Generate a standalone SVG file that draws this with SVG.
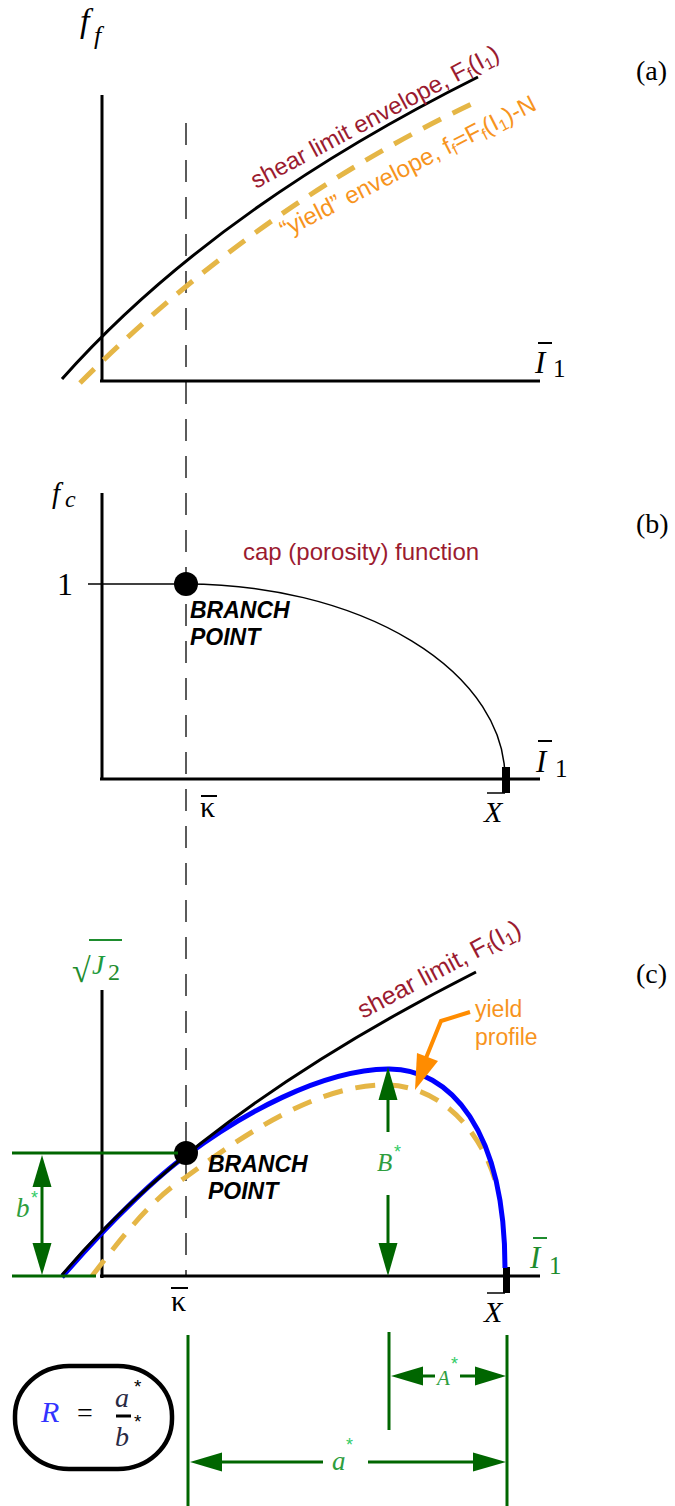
<svg xmlns="http://www.w3.org/2000/svg" width="675" height="1506" viewBox="0 0 675 1506">
<style>
.axis{stroke:#000;stroke-width:3;fill:none}
.thin{stroke:#000;stroke-width:1.5;fill:none}
.dash{stroke:#333;stroke-width:1.6;stroke-dasharray:22 15;fill:none}
.shear{stroke:#000;stroke-width:3;fill:none}
.yield{stroke:#E5B646;stroke-width:5;stroke-dasharray:20 13;fill:none}
.blue{stroke:#0000FF;stroke-width:5;fill:none}
.gl{stroke:#006600;stroke-width:3;fill:none}
.gh{fill:#006600}
.math{font-family:"Liberation Serif",serif;font-style:italic}
.rm{font-family:"Liberation Serif",serif}
.sans{font-family:"Liberation Sans",Arial,sans-serif}
.red{fill:#9B1B30}
.org{fill:#F7941D}
.bp{font-family:"Liberation Sans",Arial,sans-serif;font-weight:bold;font-style:italic;font-size:23px;fill:#000}
.gtx{fill:#2E9E3E}
.star{font-family:"Liberation Sans",sans-serif;font-size:18px;fill:#33CC66}
</style>

<g id="panel-labels" class="rm" font-size="28">
<text x="636" y="80">(a)</text>
<text x="636" y="533">(b)</text>
<text x="636" y="983">(c)</text>
</g>

<g id="kappa-guide">
<line class="dash" x1="186" y1="123" x2="186" y2="1276"/>
</g>

<g id="panel-a">
<line class="axis" x1="102" y1="95" x2="102" y2="382"/>
<line class="axis" x1="100" y1="381" x2="540" y2="381"/>
<text class="math" x="80" y="32" font-size="34">f</text>
<text class="math" x="94" y="44" font-size="26">f</text>
<line x1="538" y1="343" x2="552" y2="343" stroke="#000" stroke-width="2"/>
<text class="math" x="535" y="373" font-size="31">I</text>
<text class="rm" x="553" y="377" font-size="25">1</text>
</g>

<g id="panel-b">
<line class="axis" x1="102" y1="493" x2="102" y2="780"/>
<line class="axis" x1="100" y1="779" x2="540" y2="779"/>
<text class="math" x="52" y="503" font-size="29">f</text>
<text class="math" x="65" y="507" font-size="24">c</text>
<text class="rm" x="57" y="595" font-size="32">1</text>
<line class="thin" x1="88" y1="584" x2="186" y2="584"/>
<path class="thin" d="M186,584 A319,194 0 0 1 505,778"/>
<rect x="502" y="767" width="8" height="26" fill="#000"/>
<line class="thin" x1="487" y1="793" x2="505" y2="793"/>
<text class="math" x="484" y="822" font-size="30">X</text>
<line x1="538" y1="741" x2="552" y2="741" stroke="#000" stroke-width="2"/>
<text class="math" x="536" y="772" font-size="31">I</text>
<text class="rm" x="555" y="777" font-size="25">1</text>
<line x1="201" y1="796" x2="217" y2="796" stroke="#000" stroke-width="2"/>
<text class="rm" x="200" y="817" font-size="30">κ</text>
<circle cx="186" cy="584" r="12" fill="#000"/>
<text class="bp" x="190" y="618">BRANCH</text>
<text class="bp" x="190" y="645">POINT</text>
<text class="sans red" x="243" y="560" font-size="24">cap (porosity) function</text>
</g>

<g id="panel-c">
<line class="axis" x1="102" y1="990" x2="102" y2="1278"/>
<line class="axis" x1="100" y1="1276" x2="540" y2="1276"/>
<text class="rm" x="72" y="982" font-size="34" fill="#1E8C2E">√</text>
<line x1="89" y1="940" x2="122" y2="940" stroke="#1E8C2E" stroke-width="1.8"/>
<text class="math" x="92" y="974" font-size="28" fill="#1E9C3E">J</text>
<text class="rm" x="108" y="980" font-size="24" fill="#1E8C2E">2</text>
<line x1="533" y1="1238" x2="547" y2="1238" stroke="#1E8C2E" stroke-width="2"/>
<text class="math" x="530" y="1268" font-size="31" fill="#1E8C2E">I</text>
<text class="rm" x="549" y="1274" font-size="25" fill="#1E8C2E">1</text>
<rect x="503" y="1267" width="7" height="26" fill="#000"/>
<line class="thin" x1="487" y1="1293" x2="505" y2="1293"/>
<text class="math" x="484" y="1322" font-size="30">X</text>
<line x1="171" y1="1288" x2="188" y2="1288" stroke="#000" stroke-width="2"/>
<text class="rm" x="171" y="1311" font-size="30">κ</text>
</g>

<g id="curves-a">
<path class="yield" d="M80,383 Q259,204 476,102"/>
<path class="shear" d="M62,379 Q212,210 478,77"/>
<text class="sans red" font-size="24" transform="translate(256,189) rotate(-28)">shear limit envelope, F<tspan font-size="16" dy="4">f</tspan><tspan dy="-4">(I</tspan><tspan font-size="16" dy="4">1</tspan><tspan dy="-4">)</tspan></text>
<text class="sans org" font-size="24" transform="translate(285,238) rotate(-27)">“yield” envelope, f<tspan font-size="16" dy="4">f</tspan><tspan dy="-4">=F</tspan><tspan font-size="16" dy="4">f</tspan><tspan dy="-4">(I</tspan><tspan font-size="16" dy="4">1</tspan><tspan dy="-4">)-N</tspan></text>
</g>

<g id="curves-c">
<path class="yield" d="M92,1276 C120,1240 150,1200 186,1177 C250,1130 320,1085 385,1085 C440,1085 480,1130 495,1180"/>
<path class="blue" d="M62,1277 C110,1221 160,1174 187,1155 C241,1115 320,1070 388,1069 C450,1068 505,1130 505,1268"/>
<path class="shear" d="M62,1275 Q200,1112 476,972"/>
<circle cx="186" cy="1153" r="12" fill="#000"/>
<text class="bp" x="208" y="1172">BRANCH</text>
<text class="bp" x="208" y="1199">POINT</text>
<text class="sans red" font-size="25" transform="translate(363,1019) rotate(-28)">shear limit, F<tspan font-size="17" dy="4">f</tspan><tspan dy="-4">(I</tspan><tspan font-size="17" dy="4">1</tspan><tspan dy="-4">)</tspan></text>
<text class="sans org" x="475" y="1017" font-size="23">yield</text>
<text class="sans org" x="475" y="1045" font-size="23">profile</text>
<polyline points="470,1012 441,1021 426,1058" fill="none" stroke="#FF8C00" stroke-width="4"/>
<polygon points="415,1090 417,1053 438,1061" fill="#FF8C00"/>
</g>

<g id="ratio-box">
<rect x="15" y="1366" width="157" height="103" rx="54" ry="50" fill="none" stroke="#000" stroke-width="4.5"/>
<text class="math" x="41" y="1422" font-size="30" fill="#3333FF">R</text>
<text class="rm" x="77" y="1422" font-size="28">=</text>
<text class="math" x="115" y="1407" font-size="28" fill="#2a2a44">a</text>
<line x1="116" y1="1416" x2="131" y2="1416" stroke="#000" stroke-width="3"/>
<text class="math" x="115" y="1446" font-size="28" fill="#2a2a44">b</text>
<text class="sans" x="134" y="1393" font-size="19">*</text>
<text class="sans" x="134" y="1428" font-size="19">*</text>
</g>

<g id="dimensions">
<line class="gl" x1="12" y1="1153" x2="178" y2="1153"/>
<line class="gl" x1="12" y1="1276" x2="96" y2="1276"/>
<line class="gl" x1="42" y1="1185" x2="42" y2="1245"/>
<polygon class="gh" points="42,1155 32.5,1187 51.5,1187"/>
<polygon class="gh" points="42,1275 32.5,1243 51.5,1243"/>
<text class="math gtx" x="16" y="1217" font-size="27">b</text>
<text class="star" x="31" y="1204">*</text>

<line class="gl" x1="388" y1="1098" x2="388" y2="1132"/>
<line class="gl" x1="388" y1="1195" x2="388" y2="1245"/>
<polygon class="gh" points="388,1067 378.5,1100 397.5,1100"/>
<polygon class="gh" points="388,1276 378.5,1243 397.5,1243"/>
<text class="math gtx" x="377" y="1171" font-size="25">B</text>
<text class="star" x="394" y="1158">*</text>

<line class="gl" x1="188" y1="1335" x2="188" y2="1506"/>
<line class="gl" x1="507" y1="1335" x2="507" y2="1506"/>
<line class="gl" x1="389" y1="1332" x2="389" y2="1430"/>

<line class="gl" x1="421" y1="1376" x2="435" y2="1376"/>
<line class="gl" x1="460" y1="1376" x2="477" y2="1376"/>
<polygon class="gh" points="391,1376 423,1366.5 423,1385.5"/>
<polygon class="gh" points="506,1376 475,1366.5 475,1385.5"/>
<text class="math gtx" x="437" y="1385" font-size="21">A</text>
<text class="star" x="451" y="1370">*</text>

<line class="gl" x1="220" y1="1462" x2="323" y2="1462"/>
<line class="gl" x1="368" y1="1462" x2="475" y2="1462"/>
<polygon class="gh" points="190,1462 222,1452.5 222,1471.5"/>
<polygon class="gh" points="506,1462 473,1452.5 473,1471.5"/>
<text class="math gtx" x="332" y="1470" font-size="27">a</text>
<text class="star" x="346" y="1451">*</text>
</g>
</svg>
